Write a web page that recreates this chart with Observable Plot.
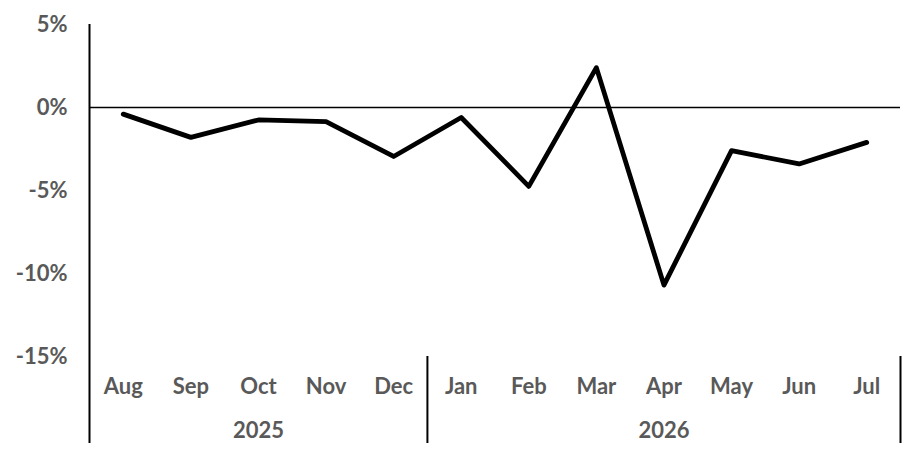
<!DOCTYPE html>
<html>
<head>
<meta charset="utf-8">
<script src="https://cdn.jsdelivr.net/npm/d3@7"></script>
<script src="https://cdn.jsdelivr.net/npm/@observablehq/plot@0.6"></script>
<style>
  html, body { margin: 0; padding: 0; background: #fff; }
</style>
</head>
<body>
<div id="chart"></div>
<script>
const months = ["Aug","Sep","Oct","Nov","Dec","Jan","Feb","Mar","Apr","May","Jun","Jul"];
const years  = ["2025","2025","2025","2025","2025","2026","2026","2026","2026","2026","2026","2026"];
const values = [-0.4, -1.8, -0.75, -0.85, -2.95, -0.6, -4.75, 2.4, -10.7, -2.6, -3.4, -2.1];
const yTicks = [-15, -10, -5, 0, 5];
const yDomain = [-15, 5];

const data = months.map((m, i) => ({i, month: m, year: years[i], value: values[i]}));

// year groups: start/end edges (band edges at index ± 0.5)
const groups = d3.groups(data, d => d.year).map(([year, rows]) => ({
  year,
  start: d3.min(rows, r => r.i) - 0.5,
  end: d3.max(rows, r => r.i) + 0.5,
  mid: (d3.min(rows, r => r.i) + d3.max(rows, r => r.i)) / 2
}));
const firstEdge = groups[0].start;
const groupEnds = groups.map(g => g.end);

const chart = Plot.plot({
  width: 923,
  height: 455,
  marginLeft: 89,
  marginRight: 23,
  marginTop: 24,
  marginBottom: 99,
  style: {fontFamily: "Lato, 'Open Sans', sans-serif", fontSize: "22px", fontWeight: "bold", color: "#595959", background: "#fff"},
  x: {type: "linear", domain: [firstEdge, groupEnds[groupEnds.length - 1]], axis: null},
  y: {domain: yDomain, axis: null},
  marks: [
    Plot.axisY({ticks: yTicks, tickSize: 0, tickPadding: 22, tickFormat: d => `${d}%`, label: null}),
    Plot.ruleY([0], {stroke: "black", strokeWidth: 1.6}),
    Plot.ruleX([firstEdge], {stroke: "black", strokeWidth: 2, insetBottom: -87}),
    Plot.ruleX(groupEnds, {x: d => d, y1: yDomain[0], y2: yDomain[0], stroke: "black", strokeWidth: 2, insetBottom: -87, clip: false}),
    Plot.lineY(data, {x: "i", y: "value", stroke: "black", strokeWidth: 4.8, strokeLinejoin: "round", strokeLinecap: "round"}),
    Plot.text(data, {x: "i", y: yDomain[0], text: "month", dy: 30, fill: "#595959", clip: false}),
    Plot.text(groups, {x: "mid", y: yDomain[0], text: "year", dy: 74, fill: "#595959", clip: false})
  ]
});
document.getElementById("chart").appendChild(chart);
</script>
</body>
</html>
